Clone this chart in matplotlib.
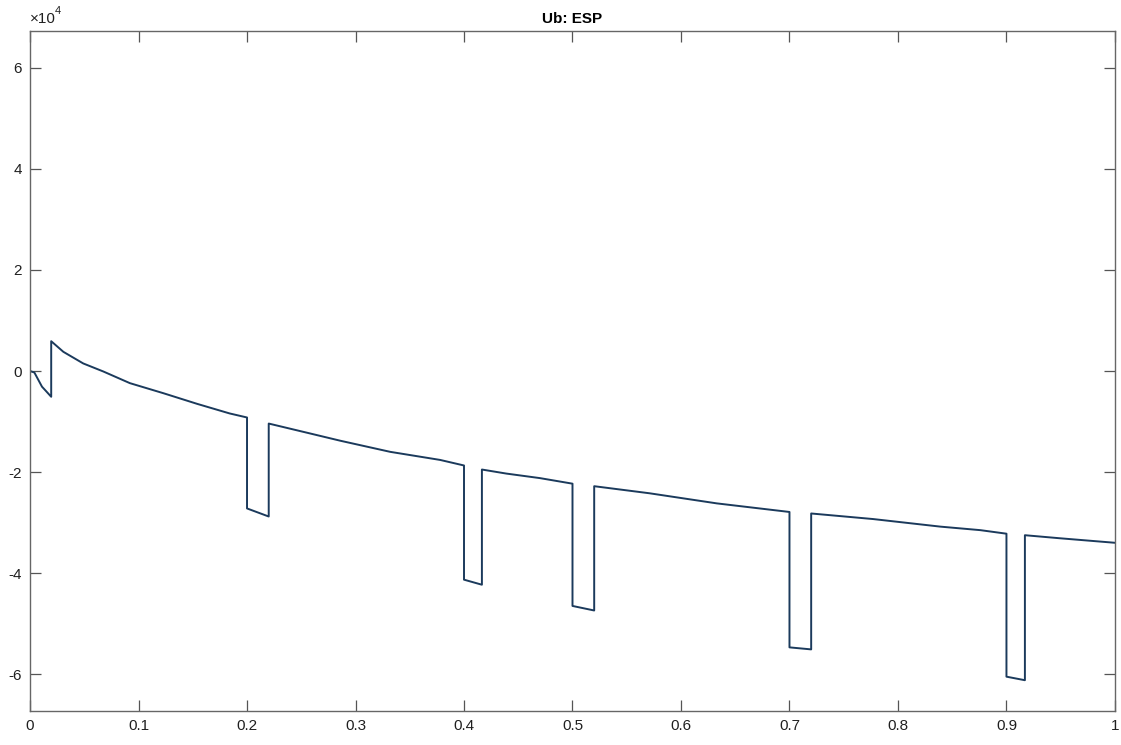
import matplotlib
matplotlib.use("Agg")
import matplotlib.pyplot as plt
from matplotlib.ticker import FixedLocator, FixedFormatter, FuncFormatter

plt.rcParams['font.family'] = ['Liberation Sans', 'DejaVu Sans']
plt.rcParams['axes.unicode_minus'] = False

title = "Ub: ESP"

# time (s) and signal values
time = [0.0, 0.004, 0.011, 0.014, 0.0195, 0.0195, 0.0307, 0.049, 0.0676, 0.092,
        0.123, 0.154, 0.184, 0.2, 0.2, 0.22, 0.22, 0.255, 0.286, 0.332,
        0.378, 0.4, 0.4, 0.4165, 0.4165, 0.439, 0.47, 0.5, 0.5, 0.52,
        0.52, 0.571, 0.633, 0.7, 0.7, 0.72, 0.72, 0.777, 0.839, 0.876,
        0.9, 0.9, 0.917, 0.917, 0.949, 1.0]
value = [0, -300, -3100, -3800, -5100, 5900, 3800, 1500, -100, -2400,
         -4400, -6500, -8400, -9200, -27200, -28800, -10400, -12200, -13800, -16000,
         -17600, -18700, -41300, -42300, -19500, -20300, -21200, -22300, -46500, -47400,
         -22800, -24200, -26200, -27900, -54700, -55100, -28200, -29300, -30800, -31500,
         -32200, -60500, -61200, -32500, -33100, -34000]

x_ticks = [0, 0.1, 0.2, 0.3, 0.4, 0.5, 0.6, 0.7, 0.8, 0.9, 1.0]
x_tick_labels = ["0", "0.1", "0.2", "0.3", "0.4", "0.5", "0.6", "0.7", "0.8", "0.9", "1"]
y_ticks = [-60000, -40000, -20000, 0, 20000, 40000, 60000]
y_scale = 1e4

fig = plt.figure(figsize=(11.21, 7.45), dpi=100)
ax = fig.add_axes([0.0268, 0.0456, 0.9678, 0.9128])

ax.plot(time, value, color='#1b3a5c', linewidth=1.4)

ax.set_xlim(0, 1)
ax.set_ylim(-67300, 67300)
ax.xaxis.set_major_locator(FixedLocator(x_ticks))
ax.xaxis.set_major_formatter(FixedFormatter(x_tick_labels))
ax.yaxis.set_major_locator(FixedLocator(y_ticks))
ax.yaxis.set_major_formatter(FuncFormatter(lambda v, p: f"{v / y_scale:g}"))

ax.tick_params(direction='in', top=True, right=True, length=8, width=0.9,
               color='#555555', labelsize=11, labelcolor='#202020', pad=6)
for s in ax.spines.values():
    s.set_color('#666666')
    s.set_linewidth(1.0)

# multiplier label "×10^4"
ax.annotate("×10", xy=(0, 1), xycoords='axes fraction', xytext=(0, 3.5),
            textcoords='offset points', fontsize=11, color='#202020',
            ha='left', va='bottom')
ax.annotate("4", xy=(0, 1), xycoords='axes fraction', xytext=(18, 10.5),
            textcoords='offset points', fontsize=8, color='#202020',
            ha='left', va='bottom')

ax.set_title(title, fontsize=11, fontweight='bold', pad=6)

fig.savefig("out.png", dpi=100)
